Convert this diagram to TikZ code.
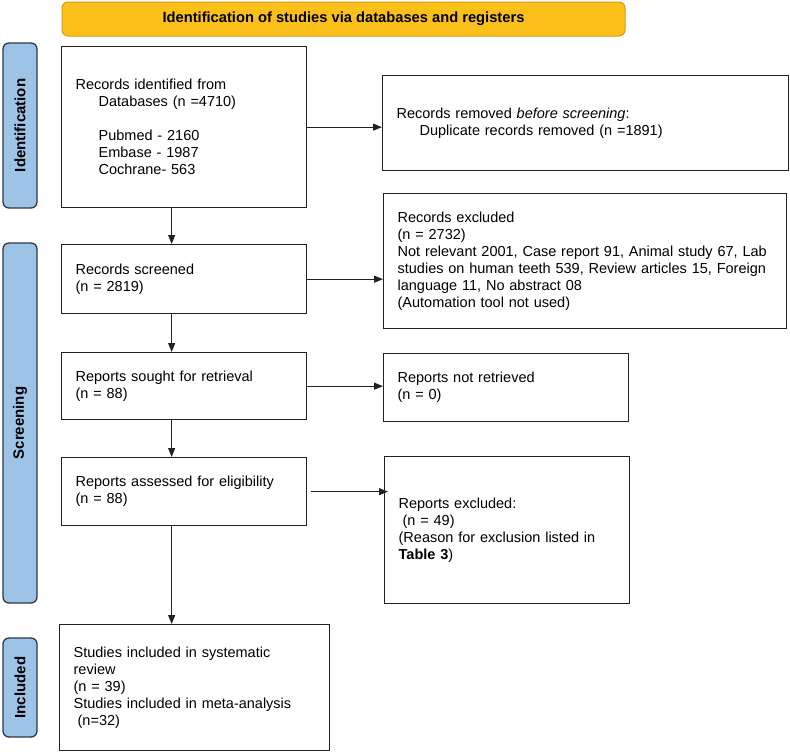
\documentclass[tikz,border=0pt]{standalone}
\usepackage{fontspec}
\setmainfont{Liberation Sans}
\usetikzlibrary{arrows.meta}
\definecolor{bannerfill}{HTML}{FBC01A}
\definecolor{bannerdraw}{HTML}{D99A12}
\definecolor{phasefill}{HTML}{9DC3E6}
\definecolor{phasedraw}{HTML}{2E3A4A}
\definecolor{boxdraw}{HTML}{222222}
\begin{document}
\begin{tikzpicture}[x=1pt,y=-1pt,
  box/.style={draw=boxdraw, line width=1.3pt, fill=white, align=left,
    inner xsep=14pt, inner ysep=0pt, anchor=north west,
    font=\fontsize{14.5}{17}\selectfont},
  phase/.style={draw=phasedraw, line width=1.3pt, fill=phasefill, rounded corners=6pt,
    rotate=90, inner sep=0pt, minimum height=34pt,
    font=\fontsize{15}{17}\selectfont\bfseries},
  banner/.style={draw=bannerdraw, line width=1pt, fill=bannerfill, rounded corners=6pt,
    inner sep=0pt, minimum width=563pt, minimum height=34pt,
    font=\fontsize{14.7}{17}\selectfont\bfseries},
  arr/.style={draw=boxdraw, line width=0.8pt, -{Triangle[length=9pt,width=7pt]}}
]
\useasboundingbox (0,0) rectangle (790,755);
\fill[white] (0,0) rectangle (790,755);

\node[banner] (ban) at (343.5,19) {Identification of studies via databases and registers};

\node[phase, minimum width=165pt] (lid) at (20,125.5) {Identification};
\node[phase, minimum width=360pt] (lsc) at (20,423) {Screening};
\node[phase, minimum width=99pt] (lin) at (20,687.5) {Included};

\node[box, text width=217pt, minimum height=161pt] (ident) at (61,46)
 {Records identified from\\\hspace*{23pt}Databases (n =4710)\\[17pt]%
  \hspace*{23pt}Pubmed - 2160\\\hspace*{23pt}Embase - 1987\\\hspace*{23pt}Cochrane- 563};

\node[box, text width=378pt, minimum height=95pt] (removed) at (382,75)
 {Records removed \textit{before screening}:\\\hspace*{23pt}Duplicate records removed (n =1891)};

\node[box, text width=217pt, minimum height=69pt] (screened) at (61,244)
 {Records screened\\(n = 2819)};

\node[box, text width=375pt, minimum height=135pt] (excluded) at (383,193)
 {Records excluded\\(n = 2732)\\Not relevant 2001, Case report 91, Animal study 67, Lab\\studies on human teeth 539, Review articles 15, Foreign\\language 11, No abstract 08\\(Automation tool not used)};

\node[box, text width=217pt, minimum height=67pt] (sought) at (61,352)
 {Reports sought for retrieval\\(n = 88)};

\node[box, text width=217pt, minimum height=68pt] (notret) at (383,353)
 {Reports not retrieved\\(n = 0)};

\node[box, text width=217pt, minimum height=68pt] (assessed) at (61,457)
 {Reports assessed for eligibility\\(n = 88)};

\node[box, text width=217pt, minimum height=147pt] (repexc) at (384,456)
 {Reports excluded:\\\hspace*{4pt}(n = 49)\\(Reason for exclusion listed in\\\textbf{Table 3})};

\node[box, text width=242pt, minimum height=126pt] (incl) at (59,624)
 {Studies included in systematic\\review\\(n = 39)\\Studies included in meta-analysis\\\hspace*{4pt}(n=32)};

\draw[arr] (ident.east) -- (ident.east -| removed.west);
\draw[arr] (screened.east) -- (screened.east -| excluded.west);
\draw[arr] (sought.east) -- (sought.east -| notret.west);
\draw[arr] ([xshift=4pt]assessed.east) -- ([xshift=4pt]assessed.east -| repexc.west);

\draw[arr] ([xshift=-12.5pt]ident.south) -- ([xshift=-12.5pt]ident.south |- screened.north);
\draw[arr] ([xshift=-12.5pt]screened.south) -- ([xshift=-12.5pt]screened.south |- sought.north);
\draw[arr] ([xshift=-12.5pt]sought.south) -- ([xshift=-12.5pt]sought.south |- assessed.north);
\draw[arr] ([xshift=-12.5pt]assessed.south) -- ([xshift=-12.5pt]assessed.south |- incl.north);
\end{tikzpicture}
\end{document}
